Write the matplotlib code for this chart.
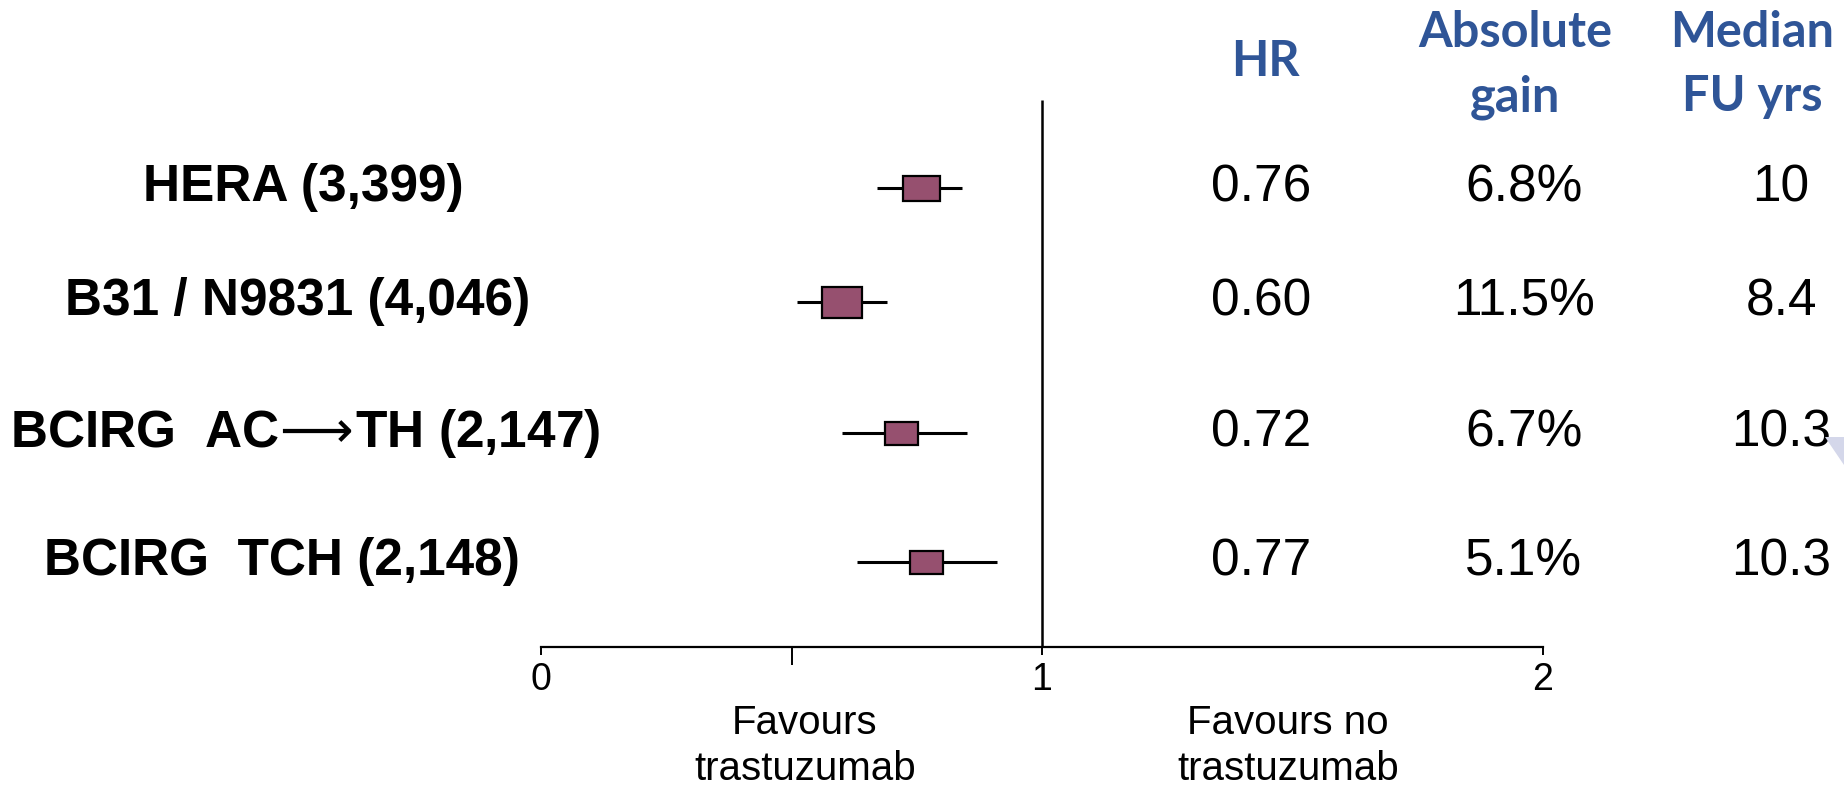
import matplotlib
matplotlib.use('Agg')
from matplotlib import pyplot as plt
from matplotlib.patches import Rectangle, Polygon

# Trials (patients randomised) and their results
trials = ['HERA (3,399)', 'B31 / N9831 (4,046)',
          'BCIRG  AC$\\!\\longrightarrow\\!$TH (2,147)', 'BCIRG  TCH (2,148)']
hr = [0.76, 0.60, 0.72, 0.77]
ci_low = [0.67, 0.51, 0.60, 0.63]
ci_high = [0.84, 0.69, 0.85, 0.91]
hr_text = ['0.76', '0.60', '0.72', '0.77']
gain_text = ['6.8%', '11.5%', '6.7%', '5.1%']
fu_text = ['10', '8.4', '10.3', '10.3']
headers = [['HR'], ['Absolute', 'gain'], ['Median', 'FU yrs']]
x_ticks = [0, 1, 2]
x_tick_labels = ['0', '1', '2']

body = ['Liberation Sans', 'DejaVu Sans']
head = ['Lato', 'Open Sans', 'DejaVu Sans']
head_color = '#2F5597'
box_color = '#96506F'

W, H = 1844, 790
x0, px = 541, 501          # pixel of HR = 0, pixels per HR unit
axis_y = 647               # pixel row of the HR axis


def xd(p):
    # figure pixel column -> HR units
    return (p - x0) / px


fig = plt.figure(figsize=(W / 100, H / 100), dpi=100)
ax = fig.add_axes([0, 1 - axis_y / H, 1, axis_y / H])
ax.set_xlim(xd(0), xd(W))
ax.set_ylim(axis_y, 0)

row_y = [188, 302, 433, 562]
label_x = [303, 298, 305, 282]
box_w = [0.074, 0.080, 0.066, 0.066]
box_h = [25, 31, 23, 23]

# Confidence intervals and point estimates
for i in range(len(trials)):
    ax.plot([ci_low[i], ci_high[i]], [row_y[i], row_y[i]], color='black',
            lw=2.2, solid_capstyle='butt', zorder=2)
    ax.add_patch(Rectangle((hr[i] - box_w[i] / 2, row_y[i] - box_h[i] / 2),
                           box_w[i], box_h[i], facecolor=box_color,
                           edgecolor='black', lw=1.6, zorder=3))

# Line of no effect
ax.vlines(1, 100, axis_y, color='black', lw=1.8, zorder=1)

# Trial names and the table columns
for i in range(len(trials)):
    ax.text(xd(label_x[i]), row_y[i], trials[i], ha='center', va='center',
            fontsize=37, fontweight='bold', family=body)
    ax.text(xd(1261), row_y[i], hr_text[i], ha='center', va='center',
            fontsize=37, family=body)
    ax.text(xd(1524), row_y[i], gain_text[i], ha='center', va='center',
            fontsize=37, family=body)
    ax.text(xd(1781), row_y[i], fu_text[i], ha='center', va='center',
            fontsize=37, family=body)

# Column headings, one text per line
head_x = [1265, 1515, 1752]
for i in range(len(headers)):
    lines = headers[i]
    base = [76] if len(lines) == 1 else [47, 111]
    for j in range(len(lines)):
        ax.text(xd(head_x[i]), base[j], lines[j], ha='center', va='baseline',
                fontsize=35, fontweight='bold', color=head_color, family=head)

# HR axis
for side in ['top', 'left', 'right']:
    ax.spines[side].set_visible(False)
ax.spines['bottom'].set_bounds(0, 2)
ax.spines['bottom'].set_linewidth(1.6)
ax.set_yticks([])
ax.set_xticks(x_ticks)
ax.set_xticklabels(x_tick_labels, fontsize=27, family=body)
ax.set_xticks([0.5], minor=True)
ax.tick_params(axis='x', which='major', length=6, width=1.4, pad=5)
ax.tick_params(axis='x', which='minor', length=13, width=1.4)

ax.text(xd(805), 746, 'Favours\ntrastuzumab', ha='center', va='center',
        fontsize=29, family=body, linespacing=1.3)
ax.text(xd(1288), 746, 'Favours no\ntrastuzumab', ha='center', va='center',
        fontsize=29, family=body, linespacing=1.3)

# small corner shape at the right edge
fig.patches.append(Polygon([(1825 / W, 1 - 437 / H), (1, 1 - 437 / H),
                            (1, 1 - 465 / H)], closed=True,
                           transform=fig.transFigure, facecolor='#D4D7EA',
                           edgecolor='none'))

fig.savefig('out.png', dpi=100)
